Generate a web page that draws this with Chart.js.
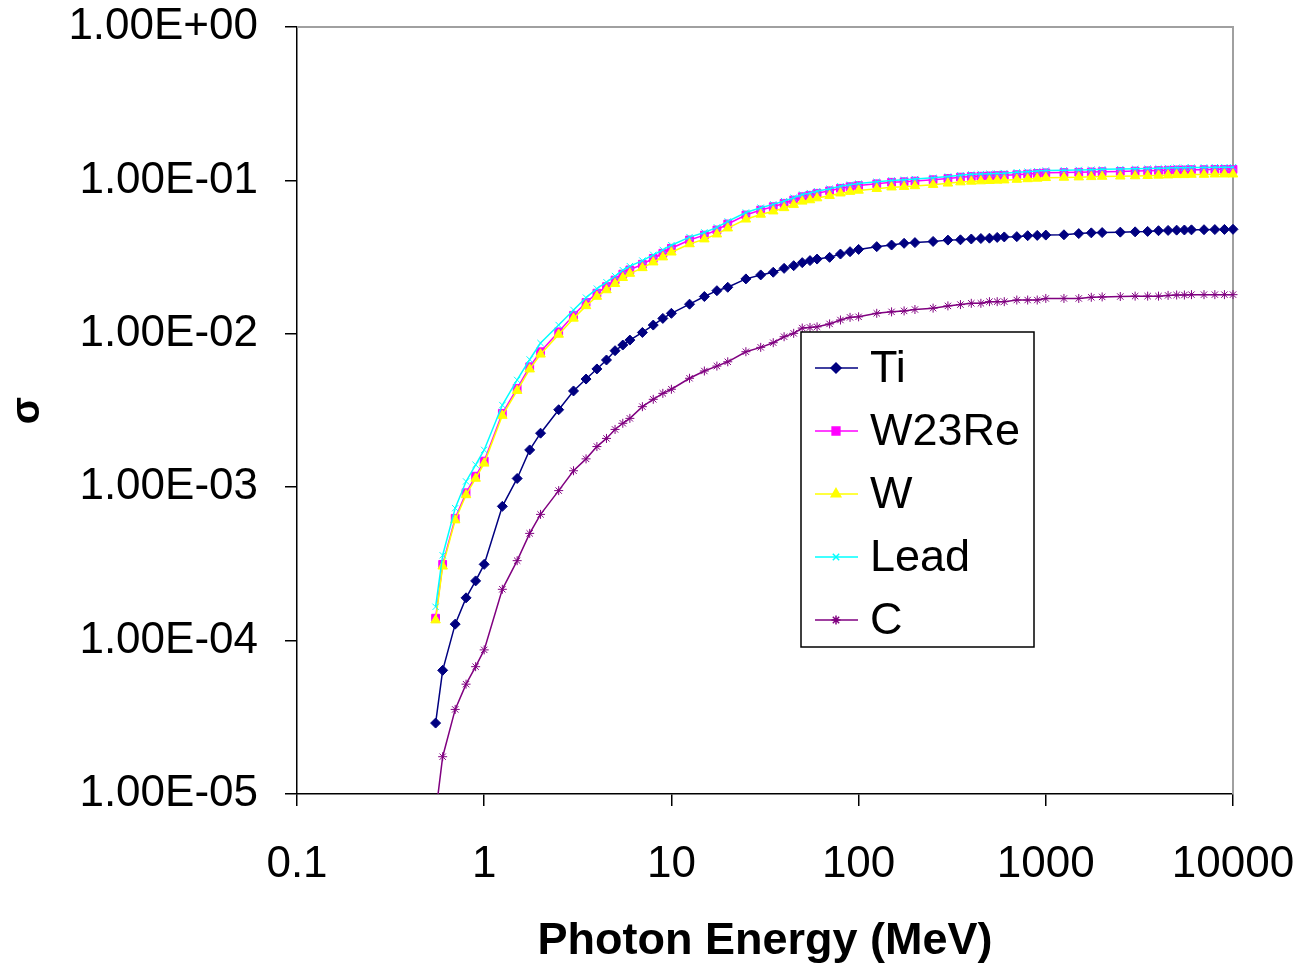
<!DOCTYPE html>
<html>
<head>
<meta charset="utf-8">
<script src="https://cdn.jsdelivr.net/npm/chart.js@4/dist/chart.umd.min.js"></script>
<style>
  body { margin: 0; background: #fff; }
  #wrap { width: 1299px; height: 964px; position: relative; }
</style>
</head>
<body>
<div id="wrap"><canvas id="chart"></canvas></div>
<script>
const energies = [0.55, 0.6, 0.7, 0.8, 0.9,
    1, 1.25, 1.5, 1.75, 2, 2.5, 3, 3.5, 4, 4.5, 5, 5.5, 6, 7, 8, 9,
    10, 12.5, 15, 17.5, 20, 25, 30, 35, 40, 45, 50, 55, 60, 70, 80, 90,
    100, 125, 150, 175, 200, 250, 300, 350, 400, 450, 500, 550, 600, 700, 800, 900,
    1000, 1250, 1500, 1750, 2000, 2500, 3000, 3500, 4000, 4500, 5000, 5500, 6000, 7000, 8000, 9000,
    10000];

const ti = [2.9e-5, 6.4e-5, 1.28e-4, 1.9e-4, 2.45e-4,
    3.14e-4, 7.5e-4, 1.14e-3, 1.75e-3, 2.25e-3, 3.2e-3, 4.24e-3, 5.07e-3, 5.9e-3, 6.75e-3, 7.76e-3, 8.45e-3, 9.1e-3, 1.02e-2, 1.14e-2, 1.26e-2,
    1.36e-2, 1.56e-2, 1.75e-2, 1.91e-2, 2.01e-2, 2.28e-2, 2.42e-2, 2.52e-2, 2.67e-2, 2.78e-2, 2.91e-2, 3.0e-2, 3.07e-2, 3.15e-2, 3.31e-2, 3.43e-2,
    3.55e-2, 3.7e-2, 3.79e-2, 3.89e-2, 3.93e-2, 4.0e-2, 4.08e-2, 4.1e-2, 4.15e-2, 4.18e-2, 4.2e-2, 4.25e-2, 4.28e-2, 4.3e-2, 4.36e-2, 4.38e-2,
    4.4e-2, 4.42e-2, 4.5e-2, 4.55e-2, 4.57e-2, 4.6e-2, 4.62e-2, 4.65e-2, 4.7e-2, 4.72e-2, 4.74e-2, 4.75e-2, 4.76e-2, 4.77e-2, 4.78e-2, 4.79e-2,
    4.8e-2];

const w23re = [1.40e-4, 3.14e-4, 6.27e-4, 9.2e-4, 1.18e-3,
    1.48e-3, 3.03e-3, 4.41e-3, 6.1e-3, 7.64e-3, 1.03e-2, 1.32e-2, 1.6e-2, 1.84e-2, 2.03e-2, 2.24e-2, 2.45e-2, 2.61e-2, 2.84e-2, 3.1e-2, 3.35e-2,
    3.61e-2, 4.09e-2, 4.4e-2, 4.75e-2, 5.2e-2, 5.95e-2, 6.41e-2, 6.74e-2, 7.09e-2, 7.45e-2, 7.83e-2, 8.0e-2, 8.24e-2, 8.55e-2, 8.88e-2, 9.1e-2,
    9.25e-2, 9.5e-2, 9.72e-2, 9.8e-2, 9.9e-2, 1.01e-1, 1.03e-1, 1.05e-1, 1.06e-1, 1.065e-1, 1.07e-1, 1.075e-1, 1.08e-1, 1.09e-1, 1.10e-1, 1.11e-1,
    1.12e-1, 1.125e-1, 1.13e-1, 1.135e-1, 1.14e-1, 1.145e-1, 1.15e-1, 1.155e-1, 1.16e-1, 1.165e-1, 1.17e-1, 1.17e-1, 1.175e-1, 1.175e-1, 1.18e-1, 1.18e-1,
    1.18e-1];

const tungsten = [1.36e-4, 3.05e-4, 6.1e-4, 8.9e-4, 1.14e-3,
    1.43e-3, 2.93e-3, 4.26e-3, 5.88e-3, 7.35e-3, 9.9e-3, 1.26e-2, 1.52e-2, 1.75e-2, 1.93e-2, 2.12e-2, 2.32e-2, 2.47e-2, 2.69e-2, 2.93e-2, 3.16e-2,
    3.4e-2, 3.85e-2, 4.14e-2, 4.46e-2, 4.88e-2, 5.58e-2, 6.0e-2, 6.3e-2, 6.62e-2, 6.95e-2, 7.3e-2, 7.45e-2, 7.67e-2, 7.95e-2, 8.25e-2, 8.45e-2,
    8.6e-2, 8.83e-2, 9.03e-2, 9.1e-2, 9.2e-2, 9.38e-2, 9.57e-2, 9.75e-2, 9.85e-2, 9.9e-2, 9.95e-2, 1.0e-1, 1.004e-1, 1.013e-1, 1.022e-1, 1.03e-1,
    1.04e-1, 1.045e-1, 1.05e-1, 1.055e-1, 1.06e-1, 1.064e-1, 1.068e-1, 1.073e-1, 1.078e-1, 1.082e-1, 1.087e-1, 1.087e-1, 1.092e-1, 1.092e-1, 1.097e-1, 1.097e-1,
    1.097e-1];

const lead = [1.66e-4, 3.6e-4, 7.3e-4, 1.09e-3, 1.4e-3,
    1.75e-3, 3.43e-3, 5.0e-3, 6.8e-3, 8.7e-3, 1.14e-2, 1.43e-2, 1.72e-2, 1.97e-2, 2.17e-2, 2.38e-2, 2.6e-2, 2.76e-2, 3.0e-2, 3.27e-2, 3.52e-2,
    3.78e-2, 4.27e-2, 4.58e-2, 4.94e-2, 5.4e-2, 6.17e-2, 6.64e-2, 6.98e-2, 7.33e-2, 7.7e-2, 8.09e-2, 8.26e-2, 8.5e-2, 8.82e-2, 9.15e-2, 9.38e-2,
    9.53e-2, 9.8e-2, 1.0e-1, 1.01e-1, 1.02e-1, 1.04e-1, 1.06e-1, 1.08e-1, 1.095e-1, 1.1e-1, 1.105e-1, 1.11e-1, 1.115e-1, 1.13e-1, 1.14e-1, 1.15e-1,
    1.16e-1, 1.165e-1, 1.17e-1, 1.175e-1, 1.18e-1, 1.185e-1, 1.19e-1, 1.195e-1, 1.2e-1, 1.205e-1, 1.21e-1, 1.21e-1, 1.215e-1, 1.215e-1, 1.22e-1, 1.22e-1,
    1.22e-1];

const carbon = [7.4e-6, 1.75e-5, 3.56e-5, 5.2e-5, 6.76e-5,
    8.7e-5, 2.16e-4, 3.32e-4, 5.0e-4, 6.65e-4, 9.5e-4, 1.28e-3, 1.53e-3, 1.84e-3, 2.08e-3, 2.38e-3, 2.61e-3, 2.81e-3, 3.35e-3, 3.74e-3, 4.09e-3,
    4.35e-3, 5.13e-3, 5.72e-3, 6.16e-3, 6.57e-3, 7.64e-3, 8.16e-3, 8.75e-3, 9.57e-3, 1.007e-2, 1.09e-2, 1.1e-2, 1.11e-2, 1.16e-2, 1.23e-2, 1.28e-2,
    1.29e-2, 1.36e-2, 1.39e-2, 1.41e-2, 1.44e-2, 1.47e-2, 1.52e-2, 1.55e-2, 1.58e-2, 1.58e-2, 1.62e-2, 1.62e-2, 1.62e-2, 1.66e-2, 1.66e-2, 1.66e-2,
    1.7e-2, 1.7e-2, 1.7e-2, 1.73e-2, 1.74e-2, 1.75e-2, 1.76e-2, 1.76e-2, 1.76e-2, 1.78e-2, 1.79e-2, 1.79e-2, 1.8e-2, 1.8e-2, 1.8e-2, 1.8e-2,
    1.8e-2];

const seriesNames = ['Ti', 'W23Re', 'W', 'Lead', 'C'];
const xTickValues = [0.1, 1, 10, 100, 1000, 10000];
const yTickValues = [1e-5, 1e-4, 1e-3, 1e-2, 1e-1, 1];

const FONT = '"Liberation Sans", Arial, sans-serif';

function pts(ys) {
    return energies.map((e, i) => ({ x: e, y: ys[i] }));
}

function makeSet(label, ys, color, style, radius, order) {
    return {
        label: label,
        data: pts(ys),
        borderColor: color,
        backgroundColor: color,
        borderWidth: 1.5,
        pointStyle: style,
        pointRadius: radius,
        pointBackgroundColor: color,
        pointBorderColor: color,
        pointBorderWidth: 1,
        tension: 0,
        order: order,
        clip: { left: 10, right: 10, top: 10, bottom: 0 }
    };
}

// gray frame on top/right of the plot area, like Excel
const plotFrame = {
    id: 'plotFrame',
    beforeDatasetsDraw(chart) {
        const a = chart.chartArea;
        const ctx = chart.ctx;
        ctx.save();
        ctx.strokeStyle = '#a0a0a0';
        ctx.lineWidth = 2;
        ctx.beginPath();
        ctx.moveTo(a.left, a.top);
        ctx.lineTo(a.right, a.top);
        ctx.lineTo(a.right, a.bottom);
        ctx.stroke();
        ctx.restore();
    }
};

// boxed legend inside the plot
const boxLegend = {
    id: 'boxLegend',
    afterDatasetsDraw(chart) {
        const ctx = chart.ctx;
        const bx = 801, by = 332, bw = 233, bh = 315;
        ctx.save();
        ctx.fillStyle = '#fff';
        ctx.fillRect(bx, by, bw, bh);
        ctx.strokeStyle = '#000';
        ctx.lineWidth = 1.5;
        ctx.strokeRect(bx, by, bw, bh);
        ctx.font = '45px ' + FONT;
        ctx.textBaseline = 'middle';
        ctx.textAlign = 'left';
        chart.data.datasets.forEach((ds, i) => {
            const y = by + 36 + i * 63;
            ctx.strokeStyle = ds.borderColor;
            ctx.lineWidth = 1.5;
            ctx.beginPath();
            ctx.moveTo(bx + 14, y);
            ctx.lineTo(bx + 57, y);
            ctx.stroke();
            ctx.fillStyle = ds.borderColor;
            Chart.helpers.drawPoint(ctx, { pointStyle: ds.pointStyle, radius: ds.pointRadius, borderWidth: 1, rotation: 0 }, bx + 35, y);
            ctx.fillStyle = '#000';
            ctx.fillText(ds.label, bx + 69, y + 2);
        });
        ctx.restore();
    }
};

function sciLabel(v) {
    const s = Number(v).toExponential(2).toUpperCase();
    const parts = s.split('E');
    const exp = parseInt(parts[1], 10);
    const sign = exp < 0 ? '-' : '+';
    const mag = String(Math.abs(exp)).padStart(2, '0');
    return parts[0] + 'E' + sign + mag;
}

new Chart(document.getElementById('chart'), {
    type: 'line',
    data: {
        datasets: [
            makeSet(seriesNames[0], ti, '#000080', 'rectRot', 5, 4),
            makeSet(seriesNames[1], w23re, '#ff00ff', 'rect', 5.5, 3),
            makeSet(seriesNames[2], tungsten, '#ffff00', 'triangle', 5.5, 2),
            makeSet(seriesNames[3], lead, '#00ffff', 'crossRot', 4.5, 1),
            makeSet(seriesNames[4], carbon, '#800080', 'star', 4.5, 0)
        ]
    },
    options: {
        responsive: true,
        maintainAspectRatio: false,
        animation: false,
        layout: { padding: { left: 0, right: 66, top: 27, bottom: 0 } },
        plugins: { legend: { display: false }, tooltip: { enabled: false } },
        scales: {
            x: {
                type: 'logarithmic',
                min: 0.1,
                max: 10000,
                afterBuildTicks: (scale) => { scale.ticks = xTickValues.map(v => ({ value: v })); },
                afterFit: (scale) => {
                    scale.height = 170;
                    scale.paddingLeft = 0;
                    scale.paddingRight = 0;
                },
                grid: { display: true, drawOnChartArea: false, drawTicks: true, tickLength: 12, color: '#000', lineWidth: 1.5 },
                border: { display: true, color: '#000', width: 1.5 },
                ticks: {
                    color: '#000',
                    padding: 32,
                    maxRotation: 0,
                    autoSkip: false,
                    font: { family: FONT, size: 44 },
                    callback: (v) => String(v)
                },
                title: {
                    display: true,
                    text: 'Photon Energy (MeV)',
                    color: '#000',
                    padding: { top: 12, bottom: -5 },
                    font: { family: FONT, size: 45, weight: 'bold' }
                }
            },
            y: {
                type: 'logarithmic',
                min: 1e-5,
                max: 1,
                afterBuildTicks: (scale) => { scale.ticks = yTickValues.map(v => ({ value: v })); },
                afterFit: (scale) => {
                    scale.width = 297;
                    scale.paddingTop = 0;
                    scale.paddingBottom = 0;
                },
                grid: { display: true, drawOnChartArea: false, drawTicks: true, tickLength: 12, color: '#000', lineWidth: 1.5 },
                border: { display: true, color: '#000', width: 1.5 },
                ticks: {
                    color: '#000',
                    padding: 27,
                    autoSkip: false,
                    font: { family: FONT, size: 44 },
                    callback: (v) => sciLabel(v)
                },
                title: {
                    display: true,
                    text: 'σ',
                    color: '#000',
                    padding: { top: 4, bottom: 0 },
                    font: { family: FONT, size: 40, weight: 'bold' }
                }
            }
        }
    },
    plugins: [plotFrame, boxLegend]
});
</script>
</body>
</html>
